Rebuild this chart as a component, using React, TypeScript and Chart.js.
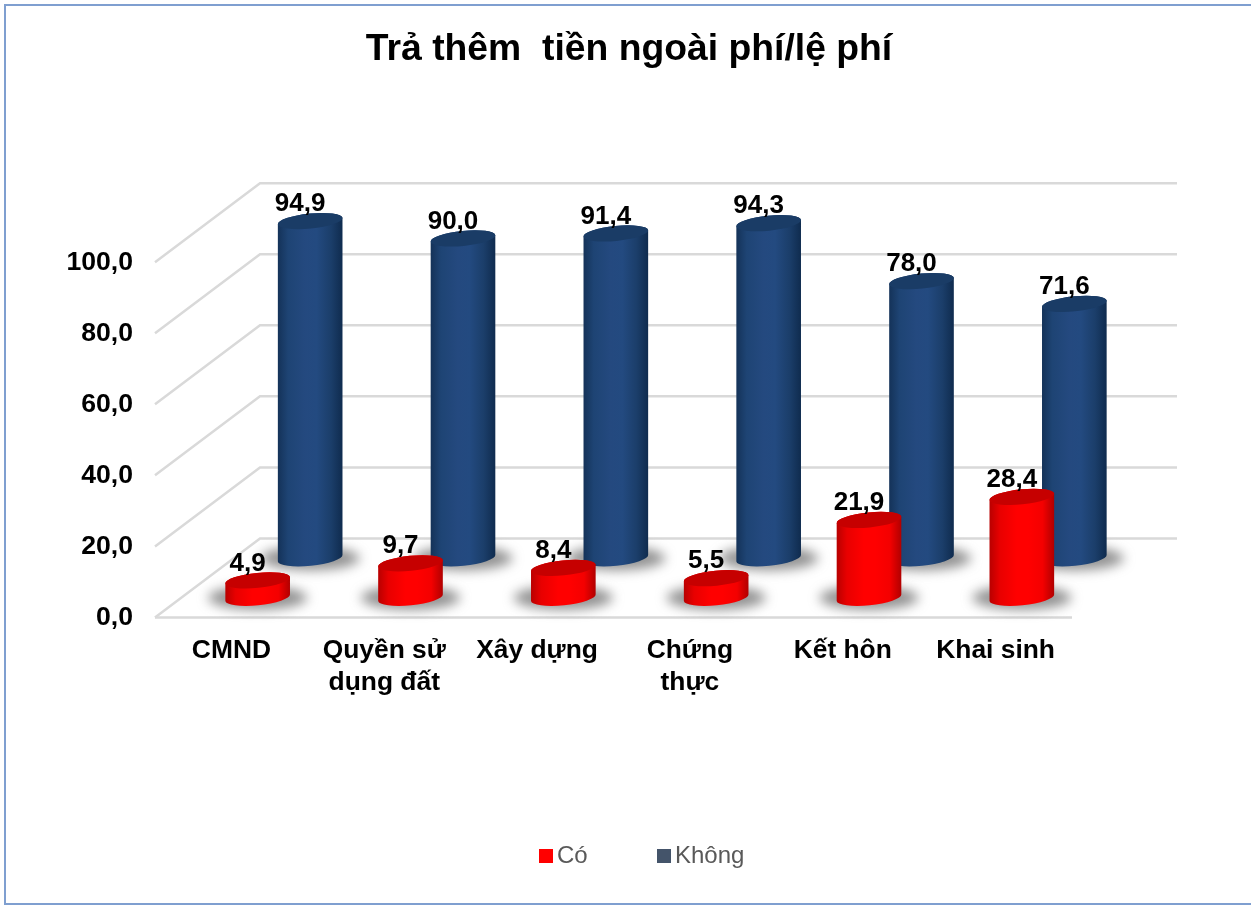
import React, { useEffect, useRef } from "react";
import { Chart, registerables } from "chart.js";

Chart.register(...registerables);

const titleText = "Trả thêm  tiền ngoài phí/lệ phí";
const categories = [
  "CMND",
  ["Quyền sử", "dụng đất"],
  "Xây dựng",
  ["Chứng", "thực"],
  "Kết hôn",
  "Khai sinh",
];
const coValues = [4.9, 9.7, 8.4, 5.5, 21.9, 28.4];
const khongValues = [94.9, 90.0, 91.4, 94.3, 78.0, 71.6];
const yTicksMax = 100;
const yTickStep = 20;

const FONT = "'Liberation Sans', Arial, sans-serif";
const DEPTH_X = 105;
const DEPTH_Y = 79;
const GRID = "#d9d9d9";
const fmt = (v: number) => v.toFixed(1).replace(".", ",");

const looks = [
  {
    depth: 0.25,
    top: "#c60000",
    stops: ["#b80000", "#e80000", "#ff0000", "#ff0000", "#f40000", "#b00000"],
    swatch: "#ff0000",
  },
  {
    depth: 0.75,
    top: "#1a3c66",
    stops: ["#143258", "#1e4474", "#24497f", "#234a80", "#1b3e6a", "#0f2b4e"],
    swatch: "#44546a",
  },
];

const TILT = -0.1;
const RY = 7.5;

const cylinderPlugin = {
  id: "cylinders",
  beforeDatasetsDraw(chart: any) {
    const { ctx, scales } = chart;
    const y = scales.y;
    const x = scales.x;
    ctx.save();
    ctx.strokeStyle = "#7f9fd0";
    ctx.lineWidth = 2;
    ctx.beginPath();
    ctx.moveTo(1251, 5);
    ctx.lineTo(5, 5);
    ctx.lineTo(5, 904);
    ctx.lineTo(1251, 904);
    ctx.stroke();
    ctx.strokeStyle = GRID;
    ctx.lineWidth = 2.5;
    y.ticks.forEach((t: any) => {
      const py = y.getPixelForValue(t.value);
      ctx.beginPath();
      ctx.moveTo(x.left, py);
      ctx.lineTo(x.left + DEPTH_X, py - DEPTH_Y);
      ctx.lineTo(x.right + DEPTH_X, py - DEPTH_Y);
      ctx.stroke();
    });
    const p0 = y.getPixelForValue(0);
    ctx.beginPath();
    ctx.moveTo(x.left, p0);
    ctx.lineTo(x.right, p0);
    ctx.stroke();
    ctx.restore();
  },
  beforeDatasetDraw(chart: any, args: any) {
    const { ctx } = chart;
    const look = looks[args.index];
    const dx = DEPTH_X * look.depth;
    const dy = DEPTH_Y * look.depth;
    args.meta.data.forEach((el: any) => {
      const p = el.getProps(["x", "y", "base", "width"], true);
      const cx = p.x + dx;
      const a = p.width / 2;
      const topY = p.y - dy;
      const baseY = p.base - dy;
      ctx.save();
      ctx.filter = "blur(6px)";
      ctx.fillStyle = "rgba(100,100,100,0.7)";
      ctx.beginPath();
      ctx.ellipse(cx, baseY, a + 17, 12, 0, 0, Math.PI * 2);
      ctx.fill();
      ctx.restore();

      const grad = ctx.createLinearGradient(cx - a, 0, cx + a, 0);
      const pos = [0, 0.16, 0.42, 0.6, 0.82, 1];
      look.stops.forEach((c: string, i: number) => grad.addColorStop(pos[i], c));
      ctx.fillStyle = grad;
      ctx.beginPath();
      ctx.ellipse(cx, baseY, a, RY, TILT, 0, Math.PI);
      ctx.ellipse(cx, topY, a, RY, TILT, Math.PI, Math.PI * 2);
      ctx.closePath();
      ctx.fill();

      ctx.fillStyle = look.top;
      ctx.beginPath();
      ctx.ellipse(cx, topY, a, RY, TILT, 0, Math.PI * 2);
      ctx.fill();
    });
    return false;
  },
  afterDatasetsDraw(chart: any) {
    const { ctx } = chart;
    ctx.save();
    ctx.fillStyle = "#000000";
    ctx.font = `bold 26px ${FONT}`;
    ctx.textAlign = "center";
    ctx.textBaseline = "middle";
    chart.data.datasets.forEach((ds: any, i: number) => {
      const look = looks[i];
      chart.getDatasetMeta(i).data.forEach((el: any, j: number) => {
        const p = el.getProps(["x", "y"], true);
        ctx.fillText(fmt(ds.data[j]), p.x + DEPTH_X * look.depth - 10, p.y - DEPTH_Y * look.depth - 17);
      });
    });
    const legendX = [539, 657];
    ctx.textAlign = "left";
    ctx.font = `24px ${FONT}`;
    chart.data.datasets.forEach((ds: any, i: number) => {
      ctx.fillStyle = looks[i].swatch;
      ctx.fillRect(legendX[i], 849, 14, 14);
      ctx.fillStyle = "#595959";
      ctx.fillText(ds.label, legendX[i] + 18, 856);
    });
    ctx.restore();
  },
};

export default function App() {
  const ref = useRef<HTMLCanvasElement>(null);
  useEffect(() => {
    document.body.style.margin = "0";
    const chart = new Chart(ref.current as HTMLCanvasElement, {
      type: "bar",
      data: {
        labels: categories as any,
        datasets: [
          { label: "Có", data: coValues, backgroundColor: "#ff0000" },
          { label: "Không", data: khongValues, backgroundColor: "#1f4477" },
        ],
      },
      plugins: [cylinderPlugin as any],
      options: {
        responsive: false,
        animation: false,
        layout: { padding: { left: 7, right: 0, top: 0, bottom: 0 } },
        datasets: { bar: { grouped: false, categoryPercentage: 1, barPercentage: 0.425 } },
        plugins: {
          legend: { display: false },
          tooltip: { enabled: false },
          title: {
            display: true,
            text: titleText,
            color: "#000000",
            font: { family: FONT, size: 37.3, weight: "bold", lineHeight: 1.2 },
            padding: { top: 27, bottom: 190.4 },
          },
        },
        scales: {
          x: {
            grid: { display: false },
            border: { display: false },
            afterFit: (s: any) => {
              s.height = 287.5;
            },
            ticks: {
              color: "#000000",
              autoSkip: false,
              maxRotation: 0,
              padding: 9,
              font: { family: FONT, size: 26.4, weight: "bold", lineHeight: 1.23 },
            },
          },
          y: {
            min: 0,
            max: yTicksMax,
            grid: { display: false, drawTicks: false },
            border: { display: false },
            afterFit: (s: any) => {
              s.width = 148;
            },
            ticks: {
              stepSize: yTickStep,
              color: "#000000",
              padding: 22,
              font: { family: FONT, size: 26.6, weight: "bold" },
              callback: (v: any) => fmt(Number(v)),
            },
          },
          yRight: {
            position: "right",
            min: 0,
            max: yTicksMax,
            grid: { display: false, drawTicks: false },
            border: { display: false },
            ticks: { display: false },
            afterFit: (s: any) => {
              s.width = 179;
            },
          },
        },
      },
    } as any);
    return () => chart.destroy();
  }, []);
  return <canvas ref={ref} width={1251} height={905} style={{ display: "block", background: "#ffffff" }} />;
}
